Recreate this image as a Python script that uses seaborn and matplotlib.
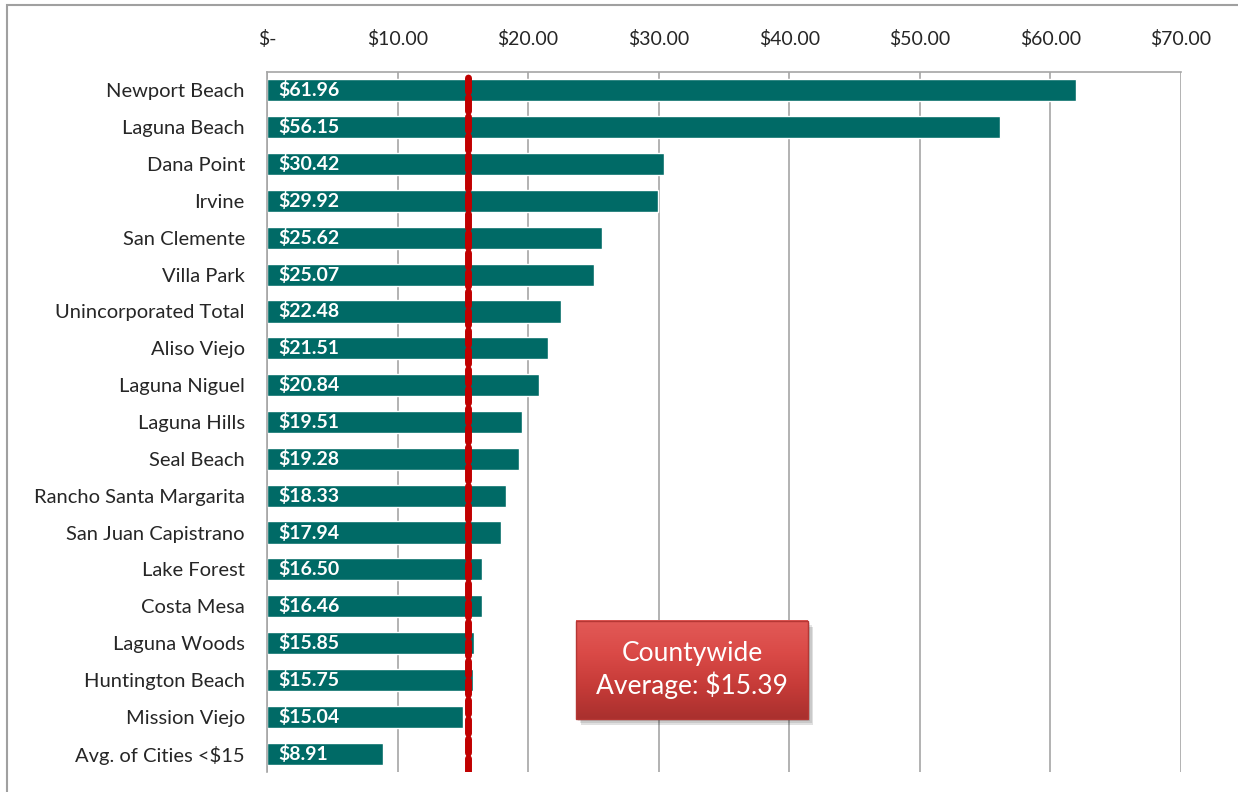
import matplotlib
matplotlib.use("Agg")
import matplotlib.pyplot as plt
import matplotlib.patches as mpatches
import matplotlib.colors as mcolors
import numpy as np
import seaborn as sns
import pandas as pd

cities = [
    "Newport Beach", "Laguna Beach", "Dana Point", "Irvine", "San Clemente",
    "Villa Park", "Unincorporated Total", "Aliso Viejo", "Laguna Niguel",
    "Laguna Hills", "Seal Beach", "Rancho Santa Margarita",
    "San Juan Capistrano", "Lake Forest", "Costa Mesa", "Laguna Woods",
    "Huntington Beach", "Mission Viejo", "Avg. of Cities <$15",
]
values = [61.96, 56.15, 30.42, 29.92, 25.62, 25.07, 22.48, 21.51, 20.84,
          19.51, 19.28, 18.33, 17.94, 16.50, 16.46, 15.85, 15.75, 15.04, 8.91]
countywide_avg = 15.39
tick_values = [0, 10, 20, 30, 40, 50, 60, 70]
tick_labels = ["$-", "$10.00", "$20.00", "$30.00", "$40.00", "$50.00",
               "$60.00", "$70.00"]

sns.set_theme(style="white")
plt.rcParams["font.family"] = ["Lato", "DejaVu Sans"]

df = pd.DataFrame({"city": cities, "value": values})

fig = plt.figure(figsize=(12.38, 7.92), dpi=100)
ax = fig.add_axes([267 / 1238, 1 - 772 / 792, (1181 - 267) / 1238, 700 / 792])

teal = "#006A66"
sns.barplot(data=df, x="value", y="city", orient="h", color=teal,
            saturation=1, width=0.6, ax=ax)

ax.set_xlim(0, 70)
ax.set_ylim(len(cities) - 0.5, -0.5)
ax.set_xticks(tick_values)
ax.set_xticklabels(tick_labels, fontsize=14)
ax.xaxis.tick_top()
ax.tick_params(axis="x", length=0, pad=17)
ax.tick_params(axis="y", length=0, pad=16, labelsize=14.5)
ax.set_xlabel("")
ax.set_ylabel("")

grid_color = "#A6A6A6"
ax.grid(axis="x", color=grid_color, linewidth=1.2)
ax.set_axisbelow(True)
for side in ["bottom", "right"]:
    ax.spines[side].set_visible(False)
for side in ["top", "left"]:
    ax.spines[side].set_color(grid_color)
    ax.spines[side].set_linewidth(1.2)

# value labels inside each bar
for i, v in enumerate(values):
    ax.text(0.9, i, f"${v:.2f}", color="white", fontweight="bold",
            fontsize=14, va="center", ha="left", zorder=4)

# countywide average reference line
ax.axvline(countywide_avg, color="#C00000", linewidth=5,
           linestyle=(0, (2.0, 0.8)), dash_capstyle="round", zorder=5)

# callout box with a vertical red gradient and a soft drop shadow
box_x0, box_x1 = (576 - 267) / 914, (808 - 267) / 914
box_y1, box_y0 = 1 - (621 - 72) / 700, 1 - (719 - 72) / 700
for k, a in enumerate([0.10, 0.10, 0.12]):
    off = 0.002 * (k + 1)
    ax.add_patch(mpatches.Rectangle((box_x0 + off, box_y0 - 1.5 * off),
                                    box_x1 - box_x0, box_y1 - box_y0,
                                    transform=ax.transAxes, facecolor="black",
                                    alpha=a, edgecolor="none", zorder=5))
grad_cmap = mcolors.LinearSegmentedColormap.from_list(
    "callout", ["#A9302E", "#C63B38", "#DA4A47", "#E25A57"])
grad = np.linspace(0, 1, 256).reshape(-1, 1)
ax.imshow(grad, cmap=grad_cmap, aspect="auto", origin="lower",
          extent=(box_x0, box_x1, box_y0, box_y1), transform=ax.transAxes,
          zorder=6)
ax.add_patch(mpatches.Rectangle((box_x0, box_y0), box_x1 - box_x0,
                                box_y1 - box_y0, transform=ax.transAxes,
                                fill=False, edgecolor="#B53734", linewidth=1,
                                zorder=6.5))
ax.text((box_x0 + box_x1) / 2, (box_y0 + box_y1) / 2,
        "Countywide\nAverage: $15.39", transform=ax.transAxes,
        ha="center", va="center", color="white", fontsize=19,
        linespacing=1.25, zorder=7)
ax.set_xlim(0, 70)
ax.set_ylim(len(cities) - 0.5, -0.5)

# outer chart frame
frame = mpatches.Rectangle((7 / 1238, -0.01), 1.0, 1 - 5 / 792 + 0.01,
                           transform=fig.transFigure, fill=False,
                           edgecolor="#A0A0A0", linewidth=1.5)
fig.patches.append(frame)

fig.savefig("out.png", dpi=100)
